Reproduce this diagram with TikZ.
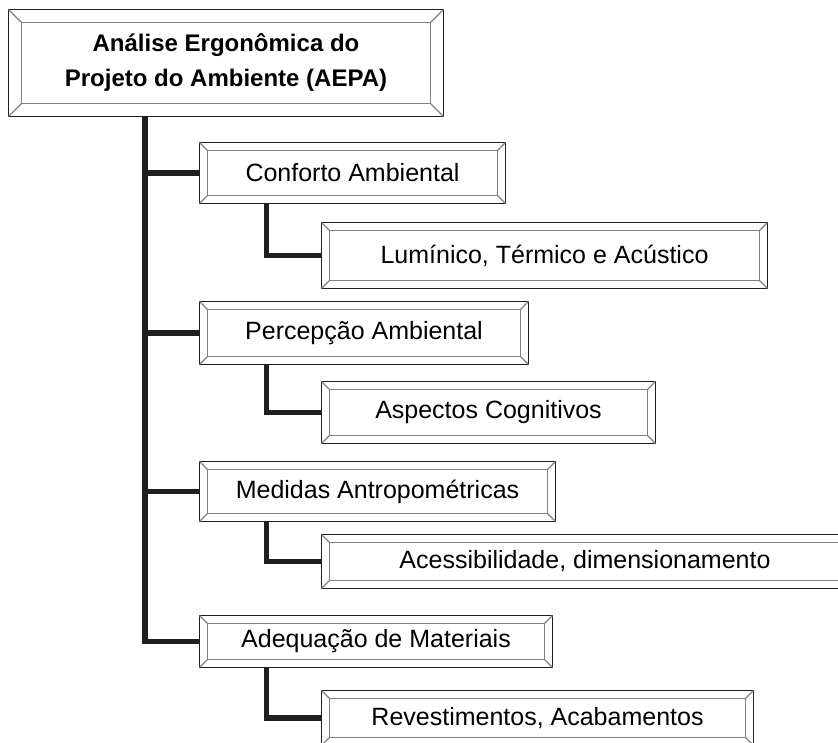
\documentclass[tikz,border=0pt]{standalone}
\usepackage{fontspec}
\setmainfont{Liberation Sans}
\usetikzlibrary{calc}

\definecolor{edgedark}{gray}{0.12}
\definecolor{edgelite}{gray}{0.5}

\tikzset{
  bevelbox/.style={inner sep=0pt, align=center, font=\fontsize{12.5}{17.5}\selectfont},
  titlebox/.style={bevelbox, font=\fontsize{12}{17.5}\selectfont\bfseries},
  link/.style={line width=2.6pt, draw=edgedark},
  outeredge/.style={line width=0.6pt, draw=edgedark},
  inneredge/.style={line width=0.6pt, draw=edgelite},
}

% bevelled frame round a node: #1 node, #2 inset
\newcommand{\bevel}[2]{%
  \draw[outeredge] (#1.north west) rectangle (#1.south east);
  \draw[inneredge] ([shift={(#2,#2)}]#1.north west) rectangle ([shift={(-#2,-#2)}]#1.south east);
  \draw[inneredge] (#1.north west) -- ([shift={(#2,#2)}]#1.north west)
                   (#1.north east) -- ([shift={(-#2,#2)}]#1.north east)
                   (#1.south east) -- ([shift={(-#2,-#2)}]#1.south east)
                   (#1.south west) -- ([shift={(#2,-#2)}]#1.south west);
}

\begin{document}
\begin{tikzpicture}[x=0.5pt, y=-0.5pt]
\useasboundingbox (0,0) rectangle (838,742);
\clip (0,0) rectangle (838,742);

% top box
\node[titlebox, minimum width=217pt, minimum height=53pt] (aepa) at (226,63)
  {Análise Ergonômica do\\Projeto do Ambiente (AEPA)};

% first level
\node[bevelbox, minimum width=152.5pt, minimum height=30pt] (conf) at (352.5,173) {Conforto Ambiental};
\node[bevelbox, minimum width=164pt, minimum height=31pt] (perc) at (364,333) {Percepção Ambiental};
\node[bevelbox, minimum width=177.5pt, minimum height=29.5pt] (medi) at (377.5,491.5) {Medidas Antropométricas};
\node[bevelbox, minimum width=176pt, minimum height=25.5pt] (adeq) at (376,641.5) {Adequação de Materiais};

% second level
\node[bevelbox, minimum width=222.5pt, minimum height=32.5pt] (lumi) at (544.5,255.5) {Lumínico, Térmico e Acústico};
\node[bevelbox, minimum width=166.5pt, minimum height=30.5pt] (aspe) at (488.5,412.5) {Aspectos Cognitivos};
\node[bevelbox, minimum width=263pt, minimum height=26.5pt] (aces) at (585,561.5) {Acessibilidade, dimensionamento};
\node[bevelbox, minimum width=215.5pt, minimum height=27pt] (reve) at (537.5,718) {Revestimentos, Acabamentos};

\bevel{aepa}{13}
\foreach \n in {conf,perc,medi,adeq,lumi,aspe,aces,reve} {\bevel{\n}{8}}

% spine
\coordinate (spine) at (145,116);
\draw[link] (spine) |- (adeq.west);
\foreach \n in {conf,perc,medi} {\draw[link] (spine |- \n.west) -- (\n.west);}

% sub branches
\draw[link] ([xshift=33.5pt]conf.south west) |- (lumi.west);
\draw[link] ([xshift=33.5pt]perc.south west) |- (aspe.west);
\draw[link] ([xshift=33.5pt]medi.south west) |- (aces.west);
\draw[link] ([xshift=33.5pt]adeq.south west) |- (reve.west);
\end{tikzpicture}
\end{document}
